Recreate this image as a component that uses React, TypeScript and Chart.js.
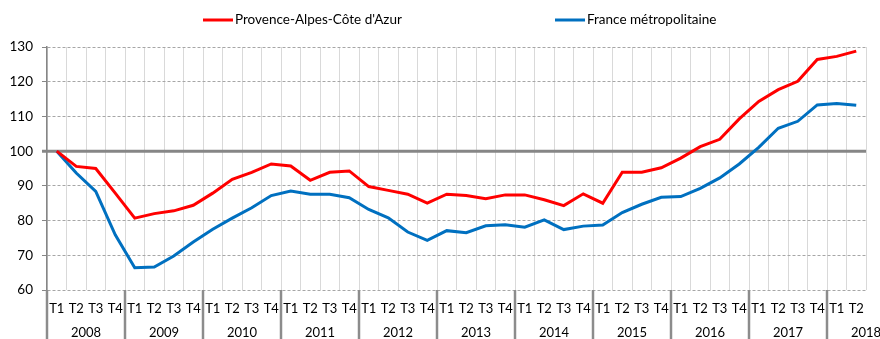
import React, { useEffect, useRef } from "react";
import { Chart, registerables } from "chart.js";

Chart.register(...registerables);

// Quarter labels (T1..T4 per year, 2018 has two quarters so far)
const years = ["2008", "2009", "2010", "2011", "2012", "2013", "2014", "2015", "2016", "2017", "2018"];
const quartersPerYear = [4, 4, 4, 4, 4, 4, 4, 4, 4, 4, 2];
const quarterLabels: string[] = years.flatMap((_, i) =>
  ["T1", "T2", "T3", "T4"].slice(0, quartersPerYear[i])
);

// Index base 100 = 2008 T1
const paca = [
  100, 95.6, 95.0, 87.9, 80.7, 82.0, 82.8, 84.4, 87.9, 91.9, 93.9, 96.3, 95.7, 91.6,
  93.9, 94.3, 89.8, 88.7, 87.6, 85.0, 87.6, 87.2, 86.3, 87.4, 87.4, 86.0, 84.3, 87.7,
  85.0, 93.9, 93.9, 95.2, 98.0, 101.3, 103.4, 109.3, 114.3, 117.7, 120.1, 126.4, 127.3, 128.8,
];
const france = [
  100, 93.7, 88.4, 75.9, 66.4, 66.6, 69.8, 73.8, 77.5, 80.7, 83.7, 87.2, 88.5, 87.6,
  87.6, 86.6, 83.2, 80.8, 76.7, 74.3, 77.1, 76.5, 78.5, 78.8, 78.1, 80.2, 77.4, 78.4,
  78.7, 82.3, 84.7, 86.7, 86.9, 89.3, 92.3, 96.3, 101.1, 106.6, 108.6, 113.3, 113.7, 113.2,
];
const seriesNames = ["Provence-Alpes-Côte d'Azur", "France métropolitaine"];
const seriesColors = ["#ff0000", "#0070c0"];
const baseValue = 100;

const FONT = "Lato, 'Open Sans', sans-serif";

// Thick reference line at the base value
const baseLinePlugin = {
  id: "baseLine",
  beforeDatasetsDraw(chart: any) {
    const { ctx, chartArea, scales } = chart;
    const y = scales.y.getPixelForValue(baseValue);
    ctx.save();
    ctx.strokeStyle = "#868686";
    ctx.lineWidth = 3;
    ctx.beginPath();
    ctx.moveTo(chartArea.left - 5, y);
    ctx.lineTo(chartArea.right, y);
    ctx.stroke();
    ctx.restore();
  },
};

// Year row under the quarter labels, with separators between years
const yearAxisPlugin = {
  id: "yearAxis",
  afterDraw(chart: any) {
    const { ctx, chartArea, scales, height } = chart;
    const x = scales.x;
    const step = x.getPixelForValue(1) - x.getPixelForValue(0);
    ctx.save();
    ctx.strokeStyle = "#8c8c8c";
    ctx.lineWidth = 2.5;
    ctx.fillStyle = "#000";
    ctx.font = `13px ${FONT}`;
    ctx.textAlign = "center";
    ctx.textBaseline = "middle";
    let start = 0;
    years.forEach((yr, i) => {
      const left = x.getPixelForValue(start) - step / 2;
      ctx.beginPath();
      ctx.moveTo(left, chartArea.bottom);
      ctx.lineTo(left, height);
      ctx.stroke();
      ctx.fillText(yr, left + step * 2, chartArea.bottom + 43);
      start += quartersPerYear[i];
    });
    ctx.restore();
  },
};

// Legend drawn as short line swatches above the plot
const lineLegendPlugin = {
  id: "lineLegend",
  afterDraw(chart: any) {
    const { ctx, chartArea } = chart;
    const offsets = [156, 508];
    ctx.save();
    ctx.font = `13.5px ${FONT}`;
    ctx.textBaseline = "middle";
    ctx.textAlign = "left";
    chart.data.datasets.forEach((ds: any, i: number) => {
      const x0 = chartArea.left + offsets[i];
      const y = 20;
      ctx.strokeStyle = ds.borderColor;
      ctx.lineWidth = 3;
      ctx.beginPath();
      ctx.moveTo(x0, y);
      ctx.lineTo(x0 + 30, y);
      ctx.stroke();
      ctx.fillStyle = "#000";
      ctx.fillText(ds.label, x0 + 32, y);
    });
    ctx.restore();
  },
};

export default function App() {
  const canvasRef = useRef<HTMLCanvasElement | null>(null);

  useEffect(() => {
    if (!canvasRef.current) return;
    const chart = new Chart(canvasRef.current, {
      type: "line",
      data: {
        labels: quarterLabels,
        datasets: [
          {
            label: seriesNames[0],
            data: paca,
            borderColor: seriesColors[0],
            backgroundColor: seriesColors[0],
            borderWidth: 3,
            pointRadius: 0,
            tension: 0,
          },
          {
            label: seriesNames[1],
            data: france,
            borderColor: seriesColors[1],
            backgroundColor: seriesColors[1],
            borderWidth: 3,
            pointRadius: 0,
            tension: 0,
          },
        ],
      },
      options: {
        animation: false,
        responsive: false,
        maintainAspectRatio: false,
        layout: { padding: { left: 0, right: 14, top: 47, bottom: 0 } },
        plugins: {
          legend: { display: false },
          tooltip: { enabled: false },
        },
        scales: {
          x: {
            type: "category",
            offset: true,
            grid: {
              offset: true,
              color: "#d9d9d9",
              lineWidth: 1,
              drawTicks: false,
            },
            border: { display: false },
            ticks: {
              color: "#000",
              font: { family: FONT, size: 13 },
              padding: 11,
              maxRotation: 0,
              autoSkip: false,
            },
            afterFit: (scale: any) => {
              scale.height = 49;
            },
          },
          y: {
            min: 60,
            max: 130,
            ticks: {
              stepSize: 10,
              color: "#000",
              font: { family: FONT, size: 13.5 },
              padding: 9,
            },
            grid: {
              color: "#a6a6a6",
              lineWidth: 1,
              tickLength: 5,
              tickColor: "#868686",
            },
            border: { color: "#868686", width: 1.5, dash: [3, 2] },
            afterFit: (scale: any) => {
              scale.width = 47;
            },
          },
        },
      },
      plugins: [baseLinePlugin, yearAxisPlugin, lineLegendPlugin],
    });
    return () => chart.destroy();
  }, []);

  return (
    <div style={{ position: "fixed", left: 0, top: 0, width: 880, height: 339, background: "#fff" }}>
      <canvas ref={canvasRef} width={880} height={339} />
    </div>
  );
}
